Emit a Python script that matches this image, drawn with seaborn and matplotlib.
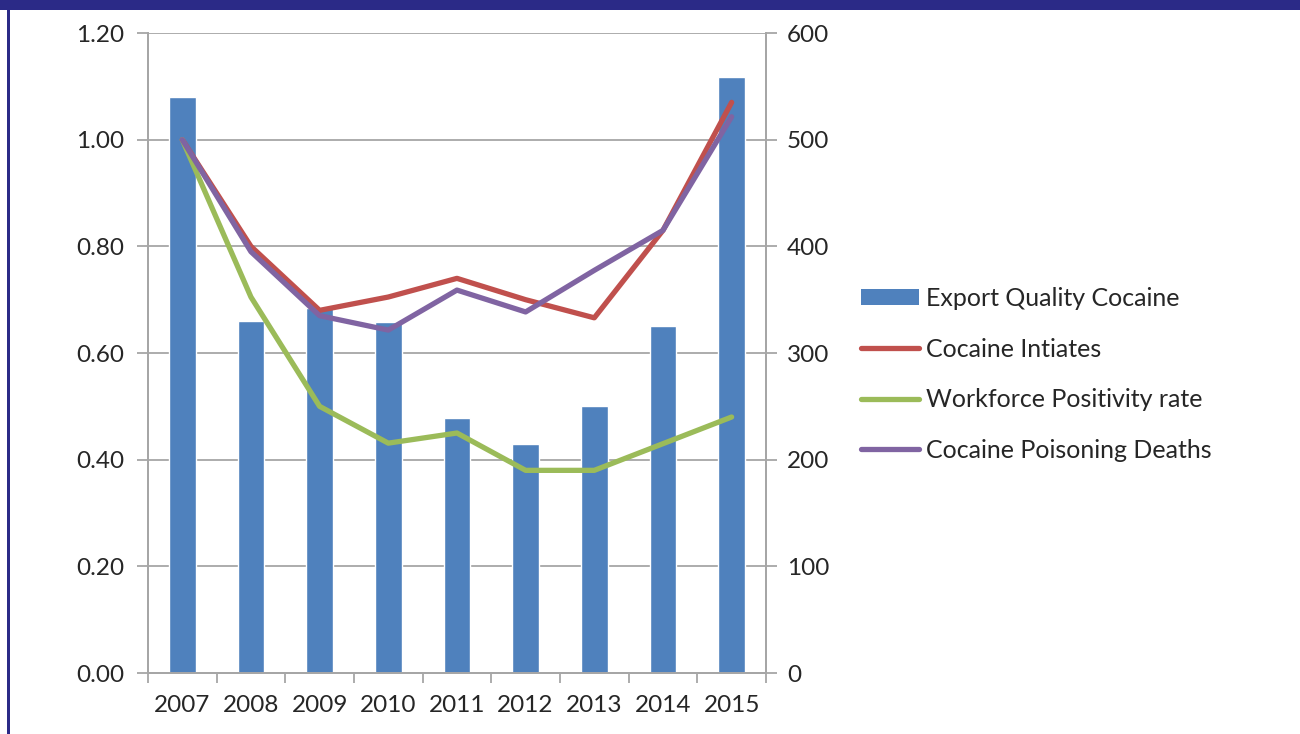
import numpy as np
import pandas as pd
import matplotlib
matplotlib.use("Agg")
import matplotlib.pyplot as plt
import seaborn as sns
from matplotlib.patches import Patch, Rectangle
from matplotlib.lines import Line2D
from matplotlib.ticker import MultipleLocator, FixedLocator

# values
years = ["2007", "2008", "2009", "2010", "2011", "2012", "2013", "2014", "2015"]
export_quality = [540, 330, 342, 329, 239, 215, 250, 325, 559]          # right axis
initiates = [1.00, 0.80, 0.68, 0.705, 0.74, 0.70, 0.666, 0.83, 1.07]      # left axis
positivity = [1.00, 0.705, 0.50, 0.431, 0.45, 0.38, 0.38, 0.43, 0.48]
poison_deaths = [1.00, 0.79, 0.67, 0.643, 0.718, 0.677, 0.755, 0.83, 1.043]

names = ["Cocaine Intiates", "Workforce Positivity rate", "Cocaine Poisoning Deaths"]
colors = {"Cocaine Intiates": "#C0504D",
          "Workforce Positivity rate": "#9BBB59",
          "Cocaine Poisoning Deaths": "#8064A2"}
bar_color = "#4F81BD"
grid_color = "#A6A6A6"

sns.set_theme(style="white")
plt.rcParams["font.family"] = ["Lato", "DejaVu Sans"]

bars = pd.DataFrame({"year": years, "value": export_quality})
lines = pd.DataFrame({
    "pos": np.tile(np.arange(len(years)), 3),
    "value": initiates + positivity + poison_deaths,
    "series": np.repeat(names, len(years)),
})

fig = plt.figure(figsize=(13, 7.34), dpi=100)
ax = fig.add_axes([0.1138, 0.0831, 0.4754, 0.8719])
ax2 = ax.twinx()

# bars on the right axis, drawn underneath the lines
sns.barplot(data=bars, x="year", y="value", ax=ax2, color=bar_color,
            saturation=1, width=0.39, zorder=2)
ax2.set_ylim(0, 600)
ax2.yaxis.set_major_locator(MultipleLocator(100))
ax2.grid(axis="y", color=grid_color, linewidth=1.3, zorder=0)
ax2.set_axisbelow(True)

sns.lineplot(data=lines, x="pos", y="value", hue="series", palette=colors,
             ax=ax, linewidth=3.8, legend=False, sort=False)
ax.set_ylim(0, 1.2)
ax.yaxis.set_major_locator(MultipleLocator(0.2))
ax.yaxis.set_major_formatter(lambda v, p: f"{v:.2f}")

ax.set_zorder(ax2.get_zorder() + 1)
ax.patch.set_visible(False)

ax.set_xlim(-0.5, len(years) - 0.5)
ax.xaxis.set_major_locator(FixedLocator(np.arange(-0.5, len(years), 1.0)))
ax.xaxis.set_minor_locator(FixedLocator(np.arange(len(years))))
ax.set_xticklabels([], minor=False)
ax.set_xticklabels(years, minor=True)
ax.tick_params(axis="x", which="major", length=7, width=1.3, color=grid_color,
               direction="out", bottom=True)
ax.tick_params(axis="x", which="minor", length=0, pad=16, labelsize=17.5)
ax.tick_params(axis="y", length=8, width=1.3, color=grid_color, direction="out",
               left=True, labelsize=17.5, pad=9)
ax2.tick_params(axis="y", length=8, width=1.3, color=grid_color, direction="out",
                right=True, labelsize=17.5, pad=7)

for a in (ax, ax2):
    a.set_xlabel("")
    a.set_ylabel("")
    for side in ("left", "right", "bottom"):
        a.spines[side].set_visible(True)
        a.spines[side].set_color(grid_color)
        a.spines[side].set_linewidth(1.3)
    a.spines["top"].set_visible(False)

handles = [Patch(facecolor=bar_color, edgecolor="none", label="Export Quality Cocaine")]
handles += [Line2D([0], [0], color=colors[n], linewidth=3.8, label=n) for n in names]
fig.legend(handles=handles, loc="center left", bbox_to_anchor=(0.645, 0.49),
           frameon=False, fontsize=18, handlelength=2.3, handleheight=0.6,
           handletextpad=0.3, labelspacing=1.1)

# dark blue frame (top band and left edge)
fig.patches.append(Rectangle((0, 1 - 10 / 734), 1, 10 / 734, transform=fig.transFigure,
                             facecolor="#2B2A87", edgecolor="none", zorder=10))
fig.patches.append(Rectangle((7 / 1300, 0), 3 / 1300, 1, transform=fig.transFigure,
                             facecolor="#2B2A87", edgecolor="none", zorder=10))

fig.savefig("out.png", dpi=100)
